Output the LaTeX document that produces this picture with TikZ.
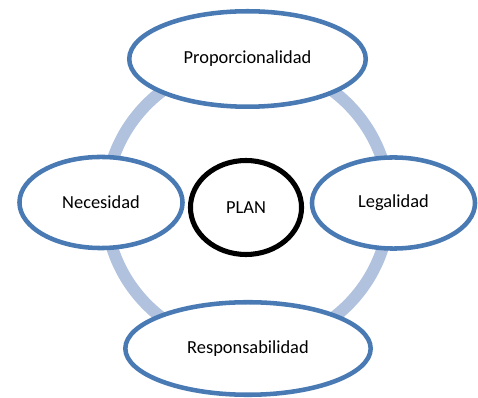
\documentclass[tikz,border=0pt]{standalone}
\usepackage{fontspec}
\setmainfont{Carlito}
\usetikzlibrary{shapes.geometric}
\definecolor{ringblue}{HTML}{B1C2DE}
\definecolor{edgeblue}{HTML}{4A7AB3}

\begin{document}
\begin{tikzpicture}
 [
  x=0.75pt,y=-0.75pt,
  every node/.style={font=\fontsize{13.8}{16}\selectfont},
  place/.style={ellipse,draw=edgeblue,fill=white,line width=3.4pt,inner sep=0pt},
  wide/.style={place,minimum width=177.4pt,minimum height=71.6pt},
  side/.style={place,minimum width=122.3pt,minimum height=68.3pt},
  hub/.style={ellipse,draw=black,fill=white,line width=3.8pt,inner sep=0pt,minimum width=83.3pt,minimum height=70.5pt},
  ring/.style={draw=ringblue,line width=9pt},
 ]
  \useasboundingbox (0,0) rectangle (478,398);
  \coordinate (mid) at (247.5,204.5);
  \draw [ring] (mid) circle (106.5pt);
  \node [hub] (plan) at (246,207.5) {PLAN};
  \node [wide] (prop) at (247.5,59) {Proporcionalidad};
  \node [side] (nec) at (101,202.5) {Necesidad};
  \node [side] (leg) at (393.5,203) {Legalidad};
  \node [wide,minimum width=184pt,minimum height=69.4pt] (resp) at (248,348.5) {Responsabilidad};
  %\node [place] at (mid) {};
\end{tikzpicture}
\end{document}
